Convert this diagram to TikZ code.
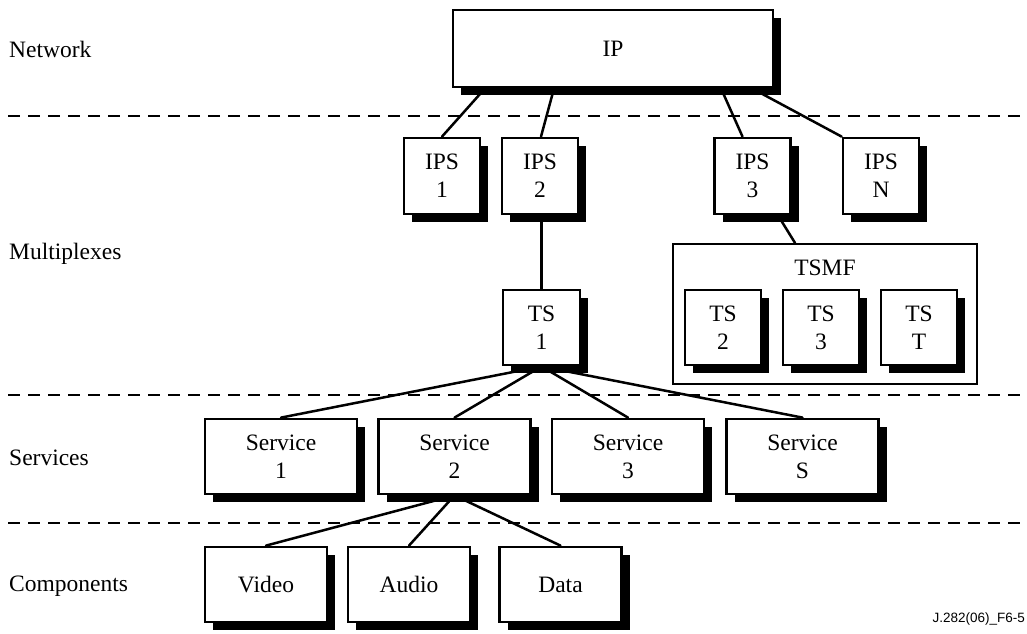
\documentclass[tikz,border=0pt]{standalone}
\usepackage{fontspec}
\setmainfont{Liberation Serif}
\newfontfamily\figsans{Liberation Sans}
\usetikzlibrary{shadows,backgrounds}
\tikzset{
  lbl/.style={font=\fontsize{23.5}{28}\selectfont, inner sep=0pt},
  sbox/.style={draw=black, line width=2.8pt, fill=white, inner sep=0pt, align=center,
    font=\fontsize{23.5}{28}\selectfont,
    drop shadow={shadow xshift=8pt, shadow yshift=-8pt, opacity=1, fill=black}},
  smallbox/.style={sbox, minimum width=76pt, minimum height=76pt},
  svcbox/.style={sbox, minimum width=152pt, minimum height=75pt},
  compbox/.style={sbox, minimum width=122pt, minimum height=75pt},
  grpbox/.style={draw=black, line width=2.2pt, fill=white, inner sep=0pt},
  conn/.style={line width=2.5pt, line cap=round},
  sep/.style={line width=2.8pt, dash pattern=on 12pt off 8pt}
}
\begin{document}
\begin{tikzpicture}[x=1pt, y=-1pt]
\useasboundingbox (0,0) rectangle (1027,633);
% separators
\draw[sep] (8,116) -- (1027,116);
\draw[sep] (8,395) -- (1027,395);
\draw[sep] (8,523) -- (1027,523);
% layer labels
\node[lbl, anchor=base west] (lnet) at (9,57) {Network};
\node[lbl, anchor=base west] (lmux) at (9,259) {Multiplexes};
\node[lbl, anchor=base west] (lsvc) at (9,465) {Services};
\node[lbl, anchor=base west] (lcmp) at (9,591) {Components};
% nodes
\node[sbox, minimum width=320pt, minimum height=77pt] (ip) at (613,48.5) {IP};
\node[smallbox] (ips1) at (442,176) {IPS\\1};
\node[smallbox] (ips2) at (540,176) {IPS\\2};
\node[smallbox] (ips3) at (752.5,176) {IPS\\3};
\node[smallbox] (ipsn) at (881,176) {IPS\\N};
\node[smallbox, minimum width=77pt, minimum height=75pt] (ts1) at (541.5,327.5) {TS\\1};
\node[grpbox, minimum width=304pt, minimum height=140pt] (tsmf) at (825,314) {};
\node[lbl, anchor=base] (tsmflbl) at (825,275) {TSMF};
\node[smallbox, minimum height=75pt] (ts2) at (723,327.5) {TS\\2};
\node[smallbox, minimum height=75pt] (ts3) at (821,327.5) {TS\\3};
\node[smallbox, minimum height=75pt] (tst) at (919,327.5) {TS\\T};
\node[svcbox] (s1) at (281,456.5) {Service\\1};
\node[svcbox] (s2) at (454.5,456.5) {Service\\2};
\node[svcbox] (s3) at (628,456.5) {Service\\3};
\node[svcbox] (ss) at (802.5,456.5) {Service\\S};
\node[compbox] (video) at (266,584.5) {Video};
\node[compbox] (audio) at (409,584.5) {Audio};
\node[compbox] (data) at (560.5,584.5) {Data};
\node[font=\figsans\fontsize{13.5}{15}\selectfont, anchor=base east, inner sep=0pt] (ref) at (1025,622) {J.282(06)\_F6-5};
% connectors
\begin{scope}[on background layer]
\draw[conn] ([xshift=-128pt]ip.south) -- (ips1.north);
\draw[conn] ([xshift=-59pt]ip.south) -- ([xshift=1pt]ips2.north);
\draw[conn] ([xshift=108pt]ip.south) -- ([xshift=-10pt]ips3.north);
\draw[conn] ([xshift=139pt]ip.south) -- (ipsn.north west);
\draw[conn] (ips2.south -| ts1.north) -- (ts1.north);
\draw[conn] ([xshift=25.5pt]ips3.south) -- ([xshift=-30pt]tsmf.north);
\draw[conn] (ts1.south) -- (s1.north);
\draw[conn] (ts1.south) -- (s2.north);
\draw[conn] (ts1.south) -- (s3.north);
\draw[conn] (ts1.south) -- (ss.north);
\draw[conn] (s2.south) -- (video.north);
\draw[conn] (s2.south) -- (audio.north);
\draw[conn] (s2.south) -- (data.north);
\end{scope}
\end{tikzpicture}
\end{document}
